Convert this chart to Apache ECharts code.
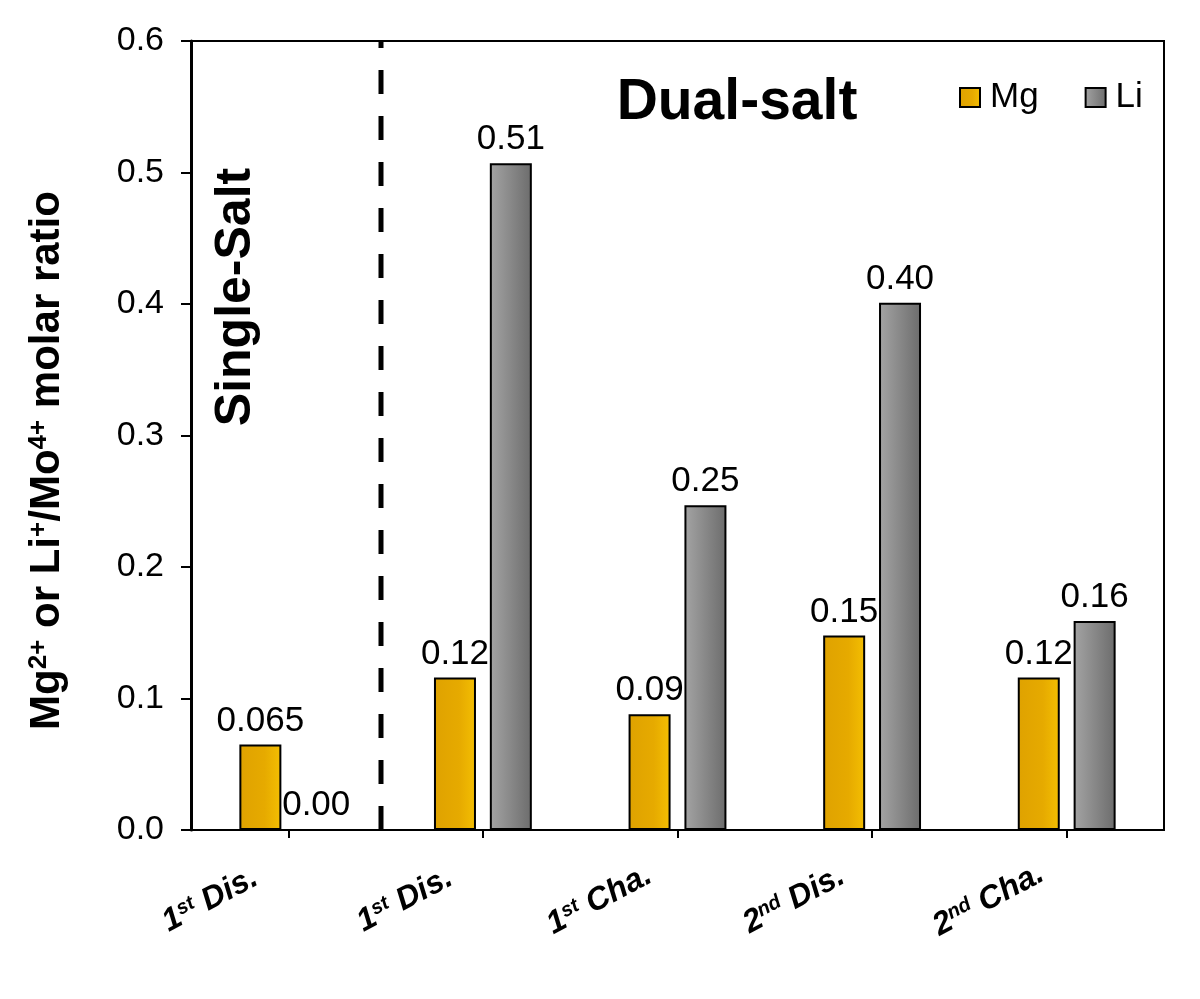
<!DOCTYPE html>
<html><head><meta charset="utf-8">
<script src="https://cdn.jsdelivr.net/npm/echarts@6/dist/echarts.min.js"></script>
<style>html,body{margin:0;padding:0;background:#fff}#c{width:1200px;height:999px}</style>
</head><body><div id="c"></div>
<script>
const categories = ['1st Dis.', '1st Dis.', '1st Cha.', '2nd Dis.', '2nd Cha.'];
const seriesNames = ['Mg', 'Li'];
const mgValues = [0.065, 0.116, 0.088, 0.148, 0.116];
const liValues = [0.0, 0.507, 0.247, 0.401, 0.159];
const mgLabels = ['0.065', '0.12', '0.09', '0.15', '0.12'];
const liLabels = ['0.00', '0.51', '0.25', '0.40', '0.16'];
const yMin = 0, yMax = 0.6, yStep = 0.1;

const FONT = '"Liberation Sans", Arial, Helvetica, sans-serif';
const chart = echarts.init(document.getElementById('c'), null, {renderer: 'canvas'});

const mgGrad = new echarts.graphic.LinearGradient(0, 0, 1, 0, [
  {offset: 0, color: '#DFA200'}, {offset: 0.6, color: '#E6AA00'}, {offset: 1, color: '#F4BF02'}]);
const liGrad = new echarts.graphic.LinearGradient(0, 0, 1, 0, [
  {offset: 0, color: '#A4A4A4'}, {offset: 1, color: '#6C6C6C'}]);

function catFmt(v) {
  const m = /^(\d)(st|nd|rd|th)(.*)$/.exec(v);
  if (!m) return '{n|' + v + '}';
  return '{n|' + m[1] + '}{s|' + m[2] + '}{n|' + m[3] + '}';
}

const option = {
  animation: false,
  backgroundColor: '#fff',
  textStyle: {fontFamily: FONT},
  grid: {left: 191, right: 36, top: 41, bottom: 169, show: true, borderColor: '#000', borderWidth: 2,
         containLabel: false, outerBoundsMode: 'none'},
  legend: {
    data: seriesNames, left: 959, top: 80, icon: 'rect', itemWidth: 20, itemHeight: 19, itemGap: 46, padding: 0,
    textStyle: {fontSize: 35, color: '#000', fontFamily: FONT, padding: [0, 0, 0, 5]}
  },
  xAxis: {
    type: 'category', data: categories,
    axisLine: {lineStyle: {color: '#000', width: 2}},
    axisTick: {show: true, alignWithLabel: true, length: 8, lineStyle: {color: '#000', width: 2}},
    axisLabel: {
      interval: 0, rotate: 28, align: 'center', verticalAlign: 'middle', margin: 8,
      padding: [36, 196, 0, 0], formatter: catFmt, color: '#000',
      rich: {
        n: {fontSize: 32, fontWeight: 'bold', fontStyle: 'italic', fontFamily: FONT, color: '#000'},
        s: {fontSize: 20, fontWeight: 'bold', fontStyle: 'italic', fontFamily: FONT, color: '#000', verticalAlign: 'top'}
      }
    },
    splitLine: {show: false}
  },
  yAxis: {
    type: 'value', min: yMin, max: yMax, interval: yStep,
    axisLine: {show: true, lineStyle: {color: '#000', width: 3}},
    axisTick: {show: true, length: 10, lineStyle: {color: '#000', width: 2}},
    axisLabel: {fontSize: 34, color: '#000', margin: 27, fontFamily: FONT, formatter: v => v.toFixed(1)},
    splitLine: {show: false},
    name: '{b|Mg}{s|2+}{b| or Li}{s|+}{b|/Mo}{s|4+}{b| molar ratio}',
    nameLocation: 'middle', nameRotate: 90, nameGap: 123,
    nameTextStyle: {
      padding: [0, 50, 0, 0],
      rich: {
        b: {fontSize: 42, fontWeight: 'bold', fontFamily: FONT, color: '#000'},
        s: {fontSize: 26, fontWeight: 'bold', fontFamily: FONT, color: '#000', verticalAlign: 'top'}
      }
    }
  },
  series: [
    {
      name: seriesNames[0], type: 'bar', data: mgValues, barWidth: 42, barGap: '33%',
      itemStyle: {color: mgGrad, borderColor: '#000', borderWidth: 2},
      label: {show: true, position: 'top', distance: 6, fontSize: 35, color: '#000', fontFamily: FONT,
              formatter: p => mgLabels[p.dataIndex]}
    },
    {
      name: seriesNames[1], type: 'bar', data: liValues, barWidth: 42,
      itemStyle: {color: liGrad, borderColor: '#000', borderWidth: 2},
      label: {show: true, position: 'top', distance: 6, fontSize: 35, color: '#000', fontFamily: FONT,
              formatter: p => liLabels[p.dataIndex]}
    }
  ],
  graphic: [
    {type: 'line', shape: {x1: 381, y1: 830, x2: 381, y2: 41},
     style: {stroke: '#000', lineWidth: 5, lineDash: [24, 22]}, z: 100},
    {type: 'text', x: 236, y: 297, rotation: Math.PI / 2,
     style: {text: 'Single-Salt', font: 'bold 50px ' + FONT, fill: '#000', align: 'center', verticalAlign: 'middle'}, z: 100},
    {type: 'text', x: 737, y: 103,
     style: {text: 'Dual-salt', font: 'bold 57px ' + FONT, fill: '#000', align: 'center', verticalAlign: 'middle'}, z: 100}
  ]
};
chart.setOption(option);
</script></body></html>
